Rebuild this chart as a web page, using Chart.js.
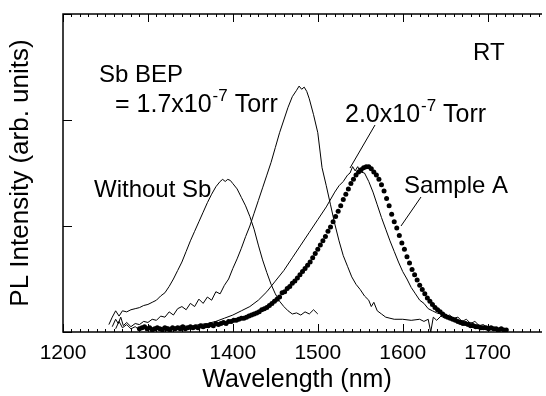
<!DOCTYPE html>
<html>
<head>
<meta charset="UTF-8">
<title>PL spectra</title>
<script src="https://cdn.jsdelivr.net/npm/chart.js"></script>
<style>
  html, body { margin: 0; padding: 0; background: #fff; }
  #wrap { width: 546px; height: 396px; }
</style>
</head>
<body>
<div id="wrap"><canvas id="plChart"></canvas></div>
<script>
// axis ticks
var xTicks = [1200, 1300, 1400, 1500, 1600, 1700];
var yTicks = [0, 1, 2, 3];

// Without Sb
var wlWithout = [1254, 1258, 1262, 1266, 1270, 1275, 1280, 1285, 1290, 1295, 1300, 1305, 1310, 1315, 1320, 1325, 1330, 1335, 1340, 1345,
  1350, 1355, 1360, 1365, 1370, 1375, 1380, 1385, 1388, 1391, 1394, 1397, 1400, 1405, 1410, 1415, 1420, 1425, 1430, 1435,
  1440, 1445, 1450, 1455, 1460, 1465, 1470, 1475, 1480, 1485, 1490, 1495, 1500];
var plWithout = [0.07, 0.14, 0.20, 0.15, 0.20, 0.19, 0.21, 0.22, 0.23, 0.25, 0.26, 0.28, 0.30, 0.34, 0.37, 0.43, 0.50, 0.58, 0.66, 0.76,
  0.86, 0.95, 1.04, 1.13, 1.22, 1.30, 1.37, 1.42, 1.44, 1.42, 1.44, 1.43, 1.40, 1.35, 1.27, 1.19, 1.09, 0.97, 0.82, 0.68,
  0.56, 0.45, 0.36, 0.29, 0.24, 0.20, 0.17, 0.18, 0.16, 0.19, 0.17, 0.21, 0.17];

// Sb BEP = 1.7x10^-7 Torr
var wl17 = [1258, 1262, 1265, 1268, 1271, 1275, 1280, 1285, 1290, 1295, 1300, 1305, 1310, 1315, 1320, 1325, 1330, 1335, 1340, 1345,
  1350, 1355, 1360, 1365, 1370, 1375, 1380, 1385, 1390, 1395, 1400, 1405, 1410, 1415, 1420, 1425, 1430, 1435, 1440, 1445,
  1450, 1455, 1460, 1465, 1470, 1475, 1478, 1481, 1484, 1487, 1490, 1495, 1500, 1505, 1510, 1515, 1520, 1525, 1530, 1535,
  1540, 1545, 1550, 1555, 1560, 1563, 1566, 1570, 1575, 1580, 1585, 1590, 1600, 1610, 1620, 1625, 1630, 1633, 1636, 1640,
  1645, 1650, 1655, 1660, 1665, 1670, 1675, 1680, 1685, 1690, 1695, 1700, 1705, 1710, 1715];
var pl17 = [0.05, 0.12, 0.08, 0.14, 0.06, 0.09, 0.05, 0.08, 0.07, 0.10, 0.09, 0.12, 0.11, 0.15, 0.14, 0.19, 0.16, 0.22, 0.24, 0.21,
  0.27, 0.24, 0.31, 0.27, 0.33, 0.30, 0.38, 0.36, 0.44, 0.50, 0.60, 0.69, 0.79, 0.90, 1.00, 1.12, 1.24, 1.36, 1.48, 1.60,
  1.74, 1.88, 2.00, 2.12, 2.22, 2.28, 2.32, 2.29, 2.31, 2.27, 2.20, 2.05, 1.88, 1.55, 1.38, 1.20, 1.02, 0.86, 0.72, 0.62,
  0.52, 0.45, 0.40, 0.34, 0.30, 0.24, 0.28, 0.20, 0.17, 0.14, 0.13, 0.12, 0.12, 0.11, 0.12, 0.10, 0.12, 0.00, 0.14, 0.11,
  0.15, 0.13, 0.16, 0.13, 0.14, 0.10, 0.12, 0.08, 0.10, 0.06, 0.07, 0.04, 0.05, 0.03, 0.02];

// Sb BEP = 2.0x10^-7 Torr
var wl20 = [1262, 1266, 1270, 1275, 1280, 1285, 1290, 1295, 1300, 1305, 1310, 1320, 1330, 1340, 1350, 1360, 1370, 1380, 1390, 1400,
  1410, 1420, 1430, 1440, 1450, 1460, 1470, 1480, 1490, 1500, 1510, 1520, 1525, 1530, 1535, 1538, 1541, 1544, 1547, 1550,
  1555, 1560, 1565, 1570, 1575, 1580, 1585, 1590, 1595, 1600, 1605, 1610, 1615, 1620, 1625, 1630, 1635, 1640, 1645, 1650,
  1655, 1660, 1665, 1670, 1675, 1680, 1685, 1690, 1695, 1700, 1705, 1710, 1715, 1720];
var pl20 = [0.03, 0.10, 0.04, 0.07, 0.03, 0.05, 0.02, 0.04, 0.03, 0.04, 0.03, 0.05, 0.04, 0.06, 0.05, 0.07, 0.08, 0.10, 0.13, 0.16,
  0.20, 0.24, 0.30, 0.38, 0.48, 0.58, 0.70, 0.82, 0.94, 1.06, 1.18, 1.32, 1.38, 1.42, 1.48, 1.50, 1.56, 1.52, 1.56, 1.51,
  1.50, 1.42, 1.32, 1.20, 1.08, 0.97, 0.86, 0.76, 0.66, 0.57, 0.50, 0.42, 0.36, 0.30, 0.27, 0.22, 0.20, 0.18, 0.17, 0.14,
  0.13, 0.12, 0.10, 0.11, 0.08, 0.09, 0.07, 0.06, 0.05, 0.04, 0.05, 0.03, 0.04, 0.02];

// Sample A (dots), one reading every 3 nm from 1290 nm
var wlSampleA = [1290, 1293, 1296, 1299, 1302, 1305, 1308, 1311, 1314, 1317, 1320, 1323, 1326, 1329, 1332, 1335, 1338, 1341, 1344, 1347,
  1350, 1353, 1356, 1359, 1362, 1365, 1368, 1371, 1374, 1377, 1380, 1383, 1386, 1389, 1392, 1395, 1398, 1401, 1404, 1407,
  1410, 1413, 1416, 1419, 1422, 1425, 1428, 1431, 1434, 1437, 1440, 1443, 1446, 1449, 1452, 1455, 1458, 1461, 1464, 1467,
  1470, 1473, 1476, 1479, 1482, 1485, 1488, 1491, 1494, 1497, 1500, 1503, 1506, 1509, 1512, 1515, 1518, 1521, 1524, 1527,
  1530, 1533, 1536, 1539, 1542, 1545, 1548, 1551, 1554, 1557, 1560, 1563, 1566, 1569, 1572, 1575, 1578, 1581, 1584, 1587,
  1590, 1593, 1596, 1599, 1602, 1605, 1608, 1611, 1614, 1617, 1620, 1623, 1626, 1629, 1632, 1635, 1638, 1641, 1644, 1647,
  1650, 1653, 1656, 1659, 1662, 1665, 1668, 1671, 1674, 1677, 1680, 1683, 1686, 1689, 1692, 1695, 1698, 1701, 1704, 1707,
  1710, 1713, 1716, 1719, 1722];
var plSampleA = [0.03, 0.04, 0.05, 0.03, 0.04, 0.02, 0.03, 0.04, 0.03, 0.02, 0.04, 0.03, 0.02, 0.04, 0.03, 0.04, 0.03, 0.05, 0.03, 0.04,
  0.05, 0.04, 0.05, 0.04, 0.06, 0.05, 0.06, 0.06, 0.07, 0.06, 0.08, 0.07, 0.08, 0.09, 0.08, 0.10, 0.10, 0.11, 0.11, 0.12,
  0.13, 0.13, 0.14, 0.15, 0.16, 0.17, 0.18, 0.19, 0.21, 0.22, 0.23, 0.25, 0.27, 0.29, 0.31, 0.33, 0.37, 0.38, 0.41, 0.43,
  0.46, 0.48, 0.51, 0.54, 0.57, 0.60, 0.63, 0.66, 0.70, 0.74, 0.78, 0.82, 0.86, 0.90, 0.95, 0.99, 1.04, 1.09, 1.14, 1.19,
  1.25, 1.30, 1.35, 1.40, 1.44, 1.48, 1.51, 1.53, 1.55, 1.56, 1.56, 1.54, 1.51, 1.48, 1.44, 1.39, 1.33, 1.26, 1.19, 1.11,
  1.04, 0.98, 0.91, 0.84, 0.78, 0.71, 0.65, 0.59, 0.54, 0.49, 0.44, 0.40, 0.36, 0.32, 0.29, 0.26, 0.23, 0.21, 0.19, 0.17,
  0.15, 0.14, 0.13, 0.12, 0.11, 0.10, 0.09, 0.08, 0.08, 0.07, 0.06, 0.06, 0.05, 0.05, 0.04, 0.04, 0.04, 0.03, 0.04, 0.03,
  0.03, 0.02, 0.03, 0.02, 0.02];

var FONT = '"Liberation Sans", Arial, Helvetica, sans-serif';

function pairs(xs, ys) {
  return xs.map(function (x, i) { return { x: x, y: ys[i] }; });
}

function lineSet(label, xs, ys) {
  return {
    label: label,
    data: pairs(xs, ys),
    showLine: true,
    borderColor: '#000',
    borderWidth: 1,
    pointRadius: 0,
    fill: false,
    tension: 0
  };
}

// frame, inward ticks and the text labels
var decorPlugin = {
  id: 'decor',
  afterDatasetsDraw: function (chart) {
    var ctx = chart.ctx, a = chart.chartArea;
    var xs = chart.scales.x, ys = chart.scales.y;
    ctx.save();
    ctx.strokeStyle = '#000';
    ctx.lineWidth = 1.5;
    ctx.beginPath();
    ctx.moveTo(a.right, a.top);
    ctx.lineTo(a.left, a.top);
    ctx.lineTo(a.left, a.bottom);
    ctx.lineTo(a.right, a.bottom);
    ctx.stroke();

    ctx.lineWidth = 1;
    ctx.beginPath();
    for (var v = xs.min; v <= xs.max; v += 10) {
      var px = Math.round(xs.getPixelForValue(v)) + 0.5;
      var len = (v % 100 === 0) ? 8 : 3;
      ctx.moveTo(px, a.bottom);
      ctx.lineTo(px, a.bottom - len);
      ctx.moveTo(px, a.top);
      ctx.lineTo(px, a.top + len);
    }
    yTicks.forEach(function (t) {
      var py = Math.round(ys.getPixelForValue(t)) + 0.5;
      ctx.moveTo(a.left, py);
      ctx.lineTo(a.left + 9, py);
    });
    ctx.stroke();

    // leader lines
    ctx.beginPath();
    ctx.moveTo(375, 125); ctx.lineTo(350, 168);
    ctx.moveTo(421, 197); ctx.lineTo(401, 226);
    ctx.stroke();

    ctx.fillStyle = '#000';
    ctx.textBaseline = 'alphabetic';
    ctx.textAlign = 'left';
    function put(s, x, y, size) {
      ctx.font = size + 'px ' + FONT;
      ctx.fillText(s, x, y);
      return x + ctx.measureText(s).width;
    }
    put('RT', 473, 60, 24);
    put('Sb BEP', 99, 82, 24);
    var x = put('= 1.7x10', 115, 112, 25);
    x = put('-7', x + 1, 101, 17);
    put(' Torr', x, 112, 25);
    x = put('2.0x10', 345, 122, 25);
    x = put('-7', x + 1, 111, 17);
    put(' Torr', x, 122, 25);
    put('Without Sb', 94, 197, 24);
    put('Sample A', 404, 193, 24);

    // x axis title
    ctx.textAlign = 'center';
    put('Wavelength (nm)', 297, 387, 25);
    ctx.restore();
  }
};

new Chart(document.getElementById('plChart').getContext('2d'), {
  type: 'scatter',
  data: {
    datasets: [
      lineSet('Without Sb', wlWithout, plWithout),
      lineSet('1.7x10^-7 Torr', wl17, pl17),
      lineSet('2.0x10^-7 Torr', wl20, pl20),
      {
        label: 'Sample A',
        data: pairs(wlSampleA, plSampleA),
        showLine: false,
        pointRadius: 2.5,
        pointBackgroundColor: '#000',
        pointBorderWidth: 0
      }
    ]
  },
  options: {
    responsive: true,
    maintainAspectRatio: false,
    animation: false,
    layout: { padding: { top: 14, left: 0, right: 0, bottom: 0 } },
    plugins: { legend: { display: false }, tooltip: { enabled: false } },
    scales: {
      x: {
        type: 'linear',
        min: 1200,
        max: 1764,
        afterBuildTicks: function (scale) {
          scale.ticks = xTicks.map(function (v) { return { value: v }; });
        },
        afterFit: function (scale) { scale.height = 64; },
        grid: { display: false },
        border: { display: false },
        ticks: {
          color: '#000',
          font: { family: FONT, size: 21 },
          padding: 1,
          maxRotation: 0,
          autoSkip: false,
          callback: function (v) { return String(v); }
        }
      },
      y: {
        type: 'linear',
        min: 0,
        max: 3,
        afterBuildTicks: function (scale) {
          scale.ticks = yTicks.map(function (v) { return { value: v }; });
        },
        afterFit: function (scale) { scale.width = 63; },
        grid: { display: false },
        border: { display: false },
        ticks: { display: false },
        title: {
          display: true,
          text: 'PL Intensity (arb. units)',
          color: '#000',
          font: { family: FONT, size: 26 },
          padding: { top: 5, bottom: 0 }
        }
      }
    }
  },
  plugins: [decorPlugin]
});
</script>
</body>
</html>
